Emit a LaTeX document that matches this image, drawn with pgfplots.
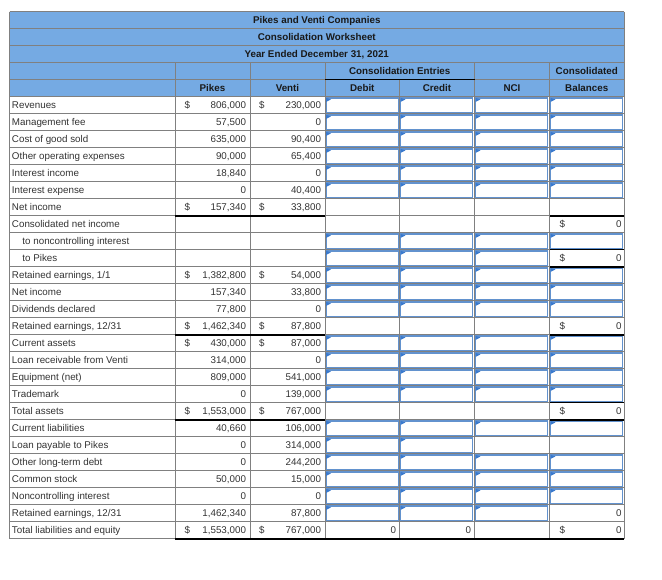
\documentclass[border=0pt]{standalone}
\usepackage{pgfplots}
\pgfplotsset{compat=1.18}
\usepackage{fontspec}
\setmainfont{Liberation Sans}
\definecolor{hdr}{RGB}{117,170,227}
\definecolor{gridc}{RGB}{128,128,128}
\definecolor{inb}{RGB}{98,146,206}
\definecolor{flagc}{RGB}{58,122,206}
\definecolor{txt}{RGB}{51,51,51}
\definecolor{htxt}{RGB}{25,25,25}
\newcommand\inp[2]{%
 \fill[white] (axis cs:{#1+0.8},{96.7+17*(#2)+0.8}) rectangle (axis cs:{#1+74.5-0.8},{96.7+17*(#2)+16.2});
 \draw[inb, line width=0.95pt] (axis cs:{#1+1.3},{96.7+17*(#2)+1.3}) rectangle (axis cs:{#1+74.5-1.3},{96.7+17*(#2)+15.7});
 \fill[flagc] (axis cs:{#1+1.2},{96.7+17*(#2)+1.2}) -- (axis cs:{#1+6},{96.7+17*(#2)+2.8}) -- (axis cs:{#1+1.2},{96.7+17*(#2)+5.2}) -- cycle;
}
\newcommand\inpall[1]{\inp{325}{#1}\inp{399.5}{#1}\inp{474.5}{#1}\inp{549.5}{#1}}
\newcommand\inpthree[1]{\inp{325}{#1}\inp{399.5}{#1}\inp{474.5}{#1}}
\newcommand\lab[2]{\node[anchor=base west,txt] at (axis cs:12,{96.7+17*(#1)+11.9}) {#2};}
\newcommand\labi[2]{\node[anchor=base west,txt] at (axis cs:22.5,{96.7+17*(#1)+11.9}) {#2};}
\newcommand\pk[2]{\node[anchor=base east,txt] at (axis cs:246,{96.7+17*(#1)+11.9}) {#2};}
\newcommand\vt[2]{\node[anchor=base east,txt] at (axis cs:321,{96.7+17*(#1)+11.9}) {#2};}
\newcommand\pkd[1]{\node[anchor=base west,txt] at (axis cs:184.5,{96.7+17*(#1)+11.9}) {\$};}
\newcommand\vtd[1]{\node[anchor=base west,txt] at (axis cs:259,{96.7+17*(#1)+11.9}) {\$};}
\newcommand\cs[2]{\node[anchor=base east,txt] at (axis cs:621.5,{96.7+17*(#1)+11.9}) {#2};}
\newcommand\csd[1]{\node[anchor=base west,txt] at (axis cs:559.5,{96.7+17*(#1)+11.9}) {\$};}
\newcommand\thick[3]{\draw[black,line width=1.5pt] (axis cs:#2,{96.7+17*(#1)}) -- (axis cs:#3,{96.7+17*(#1)});}
\newcommand\thin[3]{\draw[black,line width=0.9pt] (axis cs:#2,{96.7+17*(#1)}) -- (axis cs:#3,{96.7+17*(#1)});}
\newcommand\hc[3]{\node[anchor=base,htxt,font=\fontsize{7.35}{8.8}\selectfont\bfseries] at (axis cs:#1,{11.7+17*(#2)+11.9}) {#3};}
\begin{document}
\begin{tikzpicture}[font=\fontsize{7.35}{8.8}\selectfont, every node/.style={inner sep=0pt, outer sep=0pt}]
\begin{axis}[
  width=496.5pt, height=435pt, scale only axis,
  xmin=0, xmax=662, ymin=0, ymax=580, y dir=reverse,
  hide axis, clip=false]
\path (axis cs:0,0) rectangle (axis cs:662,580);
% header fill
\fill[hdr] (axis cs:9.5,11.7) rectangle (axis cs:624,96.7);
\fill[white] (axis cs:9.5,96.7) rectangle (axis cs:624,538.7);
% horizontal grid lines
\pgfplotsinvokeforeach{0,...,31}{
  \draw[gridc, line width=0.75pt] (axis cs:9.5,{11.7+17*#1}) -- (axis cs:624,{11.7+17*#1});
}
% vertical grid lines
\draw[gridc, line width=0.75pt] (axis cs:9.5,11.7) -- (axis cs:9.5,538.7);
\draw[gridc, line width=0.75pt] (axis cs:624,11.7) -- (axis cs:624,538.7);
\pgfplotsinvokeforeach{175,250,325,474.5,549.5}{
  \draw[gridc, line width=0.75pt] (axis cs:#1,62.7) -- (axis cs:#1,538.7);
}
\draw[gridc, line width=0.75pt] (axis cs:399.5,79.7) -- (axis cs:399.5,538.7);
\draw[black, line width=0.9pt] (axis cs:325,79.7) -- (axis cs:474.5,79.7);
% input cells
\pgfplotsinvokeforeach{0,1,2,3,4,5,10,11,12,14,15,16,17,19,21,22,23}{\inpall{#1}}
\inpall{8}
\inpthree{9}
\inpthree{24}
\inp{325}{20}\inp{399.5}{20}
% thick rules
\thick{7}{175}{325}
\thick{7}{549.5}{624}
\thin{9}{549.5}{624}
\thick{10}{549.5}{624}
\thick{14}{175}{325}
\thick{14}{549.5}{624}
\thin{18}{549.5}{624}
\thick{19}{175}{325}
\thick{19}{549.5}{624}
\thick{26}{175}{624}
% header text
\hc{316.75}{0}{Pikes and Venti Companies}
\hc{316.75}{1}{Consolidation Worksheet}
\hc{316.75}{2}{Year Ended December 31, 2021}
\hc{399.75}{3}{Consolidation Entries}
\hc{586.75}{3}{Consolidated}
\hc{212.5}{4}{Pikes}
\hc{287.5}{4}{Venti}
\hc{362.25}{4}{Debit}
\hc{437}{4}{Credit}
\hc{512}{4}{NCI}
\hc{586.75}{4}{Balances}
% body
\lab{0}{Revenues}\pkd{0}\pk{0}{806,000}\vtd{0}\vt{0}{230,000}
\lab{1}{Management fee}\pk{1}{57,500}\vt{1}{0}
\lab{2}{Cost of good sold}\pk{2}{635,000}\vt{2}{90,400}
\lab{3}{Other operating expenses}\pk{3}{90,000}\vt{3}{65,400}
\lab{4}{Interest income}\pk{4}{18,840}\vt{4}{0}
\lab{5}{Interest expense}\pk{5}{0}\vt{5}{40,400}
\lab{6}{Net income}\pkd{6}\pk{6}{157,340}\vtd{6}\vt{6}{33,800}
\lab{7}{Consolidated net income}\csd{7}\cs{7}{0}
\labi{8}{to noncontrolling interest}
\labi{9}{to Pikes}\csd{9}\cs{9}{0}
\lab{10}{Retained earnings, 1/1}\pkd{10}\pk{10}{1,382,800}\vtd{10}\vt{10}{54,000}
\lab{11}{Net income}\pk{11}{157,340}\vt{11}{33,800}
\lab{12}{Dividends declared}\pk{12}{77,800}\vt{12}{0}
\lab{13}{Retained earnings, 12/31}\pkd{13}\pk{13}{1,462,340}\vtd{13}\vt{13}{87,800}\csd{13}\cs{13}{0}
\lab{14}{Current assets}\pkd{14}\pk{14}{430,000}\vtd{14}\vt{14}{87,000}
\lab{15}{Loan receivable from Venti}\pk{15}{314,000}\vt{15}{0}
\lab{16}{Equipment (net)}\pk{16}{809,000}\vt{16}{541,000}
\lab{17}{Trademark}\pk{17}{0}\vt{17}{139,000}
\lab{18}{Total assets}\pkd{18}\pk{18}{1,553,000}\vtd{18}\vt{18}{767,000}\csd{18}\cs{18}{0}
\lab{19}{Current liabilities}\pk{19}{40,660}\vt{19}{106,000}
\lab{20}{Loan payable to Pikes}\pk{20}{0}\vt{20}{314,000}
\lab{21}{Other long-term debt}\pk{21}{0}\vt{21}{244,200}
\lab{22}{Common stock}\pk{22}{50,000}\vt{22}{15,000}
\lab{23}{Noncontrolling interest}\pk{23}{0}\vt{23}{0}
\lab{24}{Retained earnings, 12/31}\pk{24}{1,462,340}\vt{24}{87,800}\cs{24}{0}
\lab{25}{Total liabilities and equity}\pkd{25}\pk{25}{1,553,000}\vtd{25}\vt{25}{767,000}
\node[anchor=base east,txt] at (axis cs:396,{96.7+17*25+11.9}) {0};
\node[anchor=base east,txt] at (axis cs:471,{96.7+17*25+11.9}) {0};
\csd{25}\cs{25}{0}
\end{axis}
\end{tikzpicture}
\end{document}
